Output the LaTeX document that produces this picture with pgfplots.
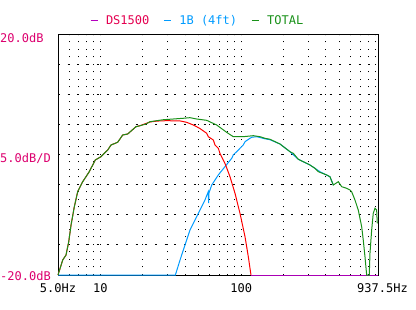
\documentclass[border=0pt]{standalone}
\usepackage{fontspec}
\setmainfont{DejaVu Sans Mono}
\usepackage{pgfplots}
\pgfplotsset{compat=1.18}
\definecolor{lab}{RGB}{220,0,110}
\definecolor{dsred}{RGB}{228,0,80}
\definecolor{dsmag}{RGB}{180,0,190}
\definecolor{curred}{RGB}{255,0,0}
\definecolor{cblue}{RGB}{0,155,255}
\definecolor{cgreen}{RGB}{25,145,25}
\definecolor{purp}{RGB}{170,0,180}
\begin{document}
\begin{tikzpicture}[x=1bp,y=1bp,font=\fontsize{12bp}{14bp}\selectfont]
\path[use as bounding box] (0,0) rectangle (416,310);
\begin{axis}[
  at={(58bp,35bp)}, anchor=south west, scale only axis,
  width=320bp, height=240bp,
  xmode=log, xmin=5, xmax=937.5, ymin=-20, ymax=20,
  xtick={6,7,8,9,10,20,30,40,50,60,70,80,90,100,200,300,400,500,600,700,800,900},
  xticklabels={},
  ytick={-15,-10,-5,0,5,10,15},
  yticklabels={},
  major tick length=0pt, minor tick length=0pt,
  xmajorgrids, ymajorgrids,
  x grid style={black, line width=1bp, dash pattern=on 1bp off 6.5bp},
  y grid style={black, line width=1bp, dash pattern=on 2bp off 7.7bp},
  axis line style={black, line width=1bp},
  extra x ticks={5,10,100,937.5},
  extra x tick labels={5.0Hz,10,100,\hspace*{9bp}937.5Hz},
  extra x tick style={grid=none, major tick length=0pt},
  xticklabel style={anchor=base, yshift=-17.7bp, inner sep=0pt, text=black},
  clip=false,
  legend columns=3,
  legend cell align=left,
  legend image code/.code={\draw[#1, line width=1bp] (0bp,0bp) -- (7bp,0bp);},
  legend style={at={(rel axis cs:0.1,1.0604)}, anchor=west, draw=none, fill=none,
    inner sep=0pt, outer sep=0pt, font=\fontsize{12bp}{14bp}\selectfont,
    nodes={inner sep=0pt},
    /tikz/every odd column/.append style={column sep=8bp},
    /tikz/every even column/.append style={column sep=14bp}},
]
\addlegendimage{dsmag}
\addlegendentry{\textcolor{dsred}{DS1500}}
\addlegendimage{cblue}
\addlegendentry{\textcolor{cblue}{1B (4ft)}}
\addlegendimage{cgreen}
\addlegendentry{\textcolor{cgreen}{TOTAL}}

% 1B (4ft)
\addplot[cblue, line width=1bp, forget plot] coordinates {
(5,-20) (34.1,-20) (36.8,-17.5) (39.9,-15) (43.3,-12.5) (47.0,-10.83)
(51.0,-9.17) (55.3,-7.5) (58.4,-6.12) (58.7,-8.0) (59.1,-6.3) (61.8,-5.0)
(68.8,-3.33) (76.7,-1.95) (85.7,-0.55) (87.9,0.0) (95.4,0.83) (103.5,1.67)
(106.5,2.22) (115.5,2.78) (118.8,2.95) (128.9,3.05) (147.6,2.7) (160.2,2.55)
(188.7,1.83) (222.2,0.55) (254.6,-0.72) (308.2,-1.67) (362.9,-2.78)
(427.4,-3.62) (451,-5.0)
};
% DS1500
\addplot[curred, line width=1bp, forget plot] coordinates {
(5,-20) (5.40,-17.5) (5.70,-16.67) (5.96,-14.45) (6.19,-11.67) (6.53,-8.62)
(6.90,-6.12) (7.49,-4.45) (8.34,-2.78) (9.20,-0.83) (10.1,-0.28) (11.27,0.83)
(11.9,1.67) (13.27,2.12) (14.4,3.33) (15.63,3.5) (17.9,4.72) (19.1,4.88)
(22.5,5.5) (25.1,5.65) (29.4,5.72) (36.8,5.68) (41,5.45) (45.7,5.0)
(50.7,4.45) (56.9,3.62) (58.4,3.05) (63.4,2.5) (65.2,1.67) (68.8,1.12)
(70.7,0.28) (76.7,-1.38) (83.3,-3.62) (90.4,-6.38) (98.1,-9.72)
(106.5,-13.62) (112.4,-16.95) (117.4,-20)
};
\addplot[purp, line width=1bp, forget plot] coordinates {
(117.4,-20) (937.5,-20)
};
% TOTAL
\addplot[cgreen, line width=1bp, forget plot] coordinates {
(5,-20) (5.40,-17.5) (5.70,-16.67) (5.96,-14.45) (6.19,-11.67) (6.53,-8.62)
(6.90,-6.12) (7.49,-4.45) (8.34,-2.78) (9.20,-0.83) (10.1,-0.28) (11.27,0.83)
(11.9,1.67) (13.27,2.12) (14.4,3.33) (15.63,3.5) (17.9,4.72) (19.1,4.88)
(21.1,5.17) (22.5,5.55) (28.0,5.88) (38.8,6.12) (43.3,6.22) (48.3,6.0)
(56.9,5.78) (67.0,5.0) (78.9,3.78) (87.9,3.05) (103.5,3.05) (121.9,3.22)
(136.1,3.05) (147.6,2.78) (160.2,2.62) (188.7,1.83) (222.2,0.55) (234.5,0.28)
(254.6,-0.72) (276.2,-1.12) (292,-1.38) (308.2,-1.67) (334.4,-2.22)
(353,-2.78) (405,-3.33) (427.4,-3.62) (451,-5.0) (489.6,-4.45) (517.5,-5.28)
(561.5,-5.55) (592.8,-5.83) (609.2,-6.12) (643.2,-7.5) (678.9,-9.17)
(717.8,-11.95) (736.8,-14.17) (757.6,-16.95) (778.9,-20) (812.7,-20)
(822.1,-16.38) (845.2,-12.5) (867.4,-9.72) (892,-8.88) (917.1,-9.17)
(926.4,-11.38)
};
\end{axis}
\node[anchor=base west, inner sep=0pt, text=lab] at (0,267.3) {20.0dB};
\node[anchor=base west, inner sep=0pt, text=lab] at (0,147.3) {5.0dB/D};
\node[anchor=base west, inner sep=0pt, text=lab] at (0,29.5) {-20.0dB};
\end{tikzpicture}
\end{document}
